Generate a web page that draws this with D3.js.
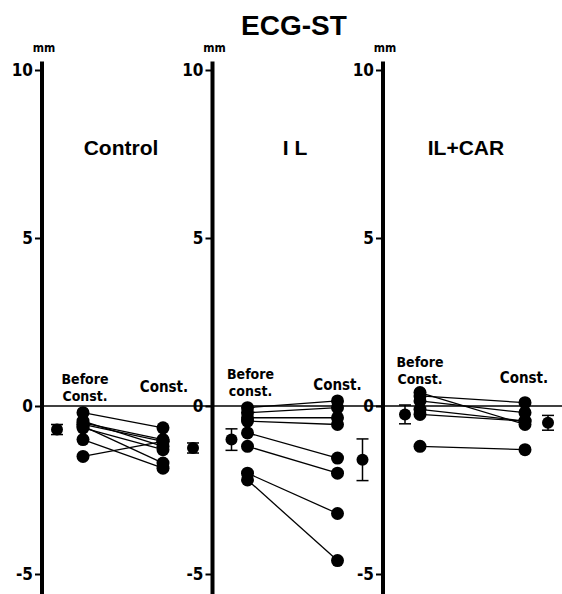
<!DOCTYPE html>
<html>
<head>
<meta charset="utf-8">
<script src="https://cdn.jsdelivr.net/npm/d3@7"></script>
<style>
  body { margin: 0; background: #fff; }
  .narrow { font-family: "DejaVu Sans Condensed", "Liberation Sans Narrow", sans-serif; font-stretch: condensed; font-weight: bold; }
</style>
</head>
<body>
<div id="ecg-st"></div>
<script>
// ST change (mm), one array per group and period
const panels = ["Control", "I L", "IL+CAR"];
const controlBefore = [-0.2, -0.5, -0.55, -0.6, -0.65, -1.0, -1.5, -0.45];
const controlConst = [-0.65, -1.0, -1.05, -1.7, -1.3, -1.85, -1.05, -1.2];
const ilBefore = [-0.05, -0.2, -0.35, -0.45, -0.8, -1.2, -2.0, -2.2];
const ilConst = [0.15, -0.05, -0.35, -0.55, -1.55, -2.0, -3.2, -4.6];
const carBefore = [0.4, 0.3, 0.15, -0.1, -0.25, -1.2];
const carConst = [-0.55, 0.1, -0.2, -0.45, -0.45, -1.3];
const meanBefore = [-0.7, -1.0, -0.25];
const errBefore = [0.15, 0.32, 0.28];
const meanConst = [-1.25, -1.6, -0.5];
const errConst = [0.15, 0.62, 0.22];
const beforeLabels = [["Before", "Const."], ["Before", "const."], ["Before", "Const."]];
const yTicks = [-5, 0, 5, 10];

const befores = [controlBefore, ilBefore, carBefore];
const consts = [controlConst, ilConst, carConst];

const width = 562, height = 594;

// layout of each panel, offsets from its axis
const layout = [
    { meanB: 15, before: 41, cons: 121, meanC: 151, lblB: 43, lblBy: 384, lblC: 122, lblCy: 392 },
    { meanB: 19, before: 35, cons: 125, meanC: 150, lblB: 38, lblBy: 379, lblC: 125, lblCy: 390 },
    { meanB: 22, before: 37, cons: 142, meanC: 165, lblB: 37, lblBy: 367, lblC: 141, lblCy: 383 }
];
const titleX = [121, 295, 466];

const svg = d3.select("#ecg-st")
    .append("svg")
    .attr("width", width)
    .attr("height", height);

const axisX = d3.scalePoint()
    .domain(panels)
    .range([42, 383]);

const y = d3.scaleLinear()
    .domain([-5, 10])
    .range([574, 70]);

svg.append("text")
    .attr("x", 294)
    .attr("y", 35)
    .attr("text-anchor", "middle")
    .style("font-family", "Liberation Sans, Arial, sans-serif")
    .style("font-weight", "bold")
    .style("font-size", "28px")
    .text("ECG-ST");

// zero line runs through all three panels
svg.append("line")
    .attr("x1", axisX(panels[0]))
    .attr("x2", width)
    .attr("y1", y(0))
    .attr("y2", y(0))
    .attr("stroke", "#000")
    .attr("stroke-width", 1.6);

panels.forEach((name, i) => {
    const x0 = axisX(name);
    const L = layout[i];
    const g = svg.append("g").attr("transform", `translate(${x0},0)`);

    const ax = g.append("g")
        .call(d3.axisLeft(y).tickValues(yTicks).tickSize(7).tickPadding(2).tickFormat(d => d));
    ax.select(".domain").remove();
    ax.selectAll(".tick line").attr("stroke-width", 2);
    ax.selectAll(".tick text")
        .attr("class", "narrow")
        .style("font-size", "17px")
        .attr("fill", "#000");

    g.append("line")
        .attr("x1", 0).attr("x2", 0)
        .attr("y1", y(10.25)).attr("y2", y(-5.7))
        .attr("stroke", "#000")
        .attr("stroke-width", 4);

    g.append("text")
        .attr("class", "narrow")
        .attr("x", 2)
        .attr("y", 52)
        .attr("text-anchor", "middle")
        .style("font-size", "12px")
        .text("mm");

    svg.append("text")
        .attr("x", titleX[i])
        .attr("y", 155)
        .attr("text-anchor", "middle")
        .style("font-family", "Liberation Sans, Arial, sans-serif")
        .style("font-weight", "bold")
        .style("font-size", "21px")
        .text(name);

    const bl = g.append("text")
        .attr("class", "narrow")
        .attr("text-anchor", "middle")
        .style("font-size", "14px");
    bl.append("tspan").attr("x", L.lblB).attr("y", L.lblBy).text(beforeLabels[i][0]);
    bl.append("tspan").attr("x", L.lblB).attr("y", L.lblBy + 17).text(beforeLabels[i][1]);

    g.append("text")
        .attr("class", "narrow")
        .attr("x", L.lblC)
        .attr("y", L.lblCy)
        .attr("text-anchor", "middle")
        .style("font-size", "15px")
        .text("Const.");

    const pairs = befores[i].map((b, k) => ({ b: b, c: consts[i][k] }));

    g.selectAll(".pair")
        .data(pairs)
        .join("line")
        .attr("x1", L.before)
        .attr("x2", L.cons)
        .attr("y1", d => y(d.b))
        .attr("y2", d => y(d.c))
        .attr("stroke", "#000")
        .attr("stroke-width", 1.3);

    g.selectAll(".pt-b")
        .data(befores[i])
        .join("circle")
        .attr("cx", L.before)
        .attr("cy", d => y(d))
        .attr("r", 6.5)
        .attr("fill", "#000");

    g.selectAll(".pt-c")
        .data(consts[i])
        .join("circle")
        .attr("cx", L.cons)
        .attr("cy", d => y(d))
        .attr("r", 6.5)
        .attr("fill", "#000");

    const means = [
        { x: L.meanB, m: meanBefore[i], e: errBefore[i] },
        { x: L.meanC, m: meanConst[i], e: errConst[i] }
    ];
    means.forEach(d => {
        g.append("line")
            .attr("x1", d.x).attr("x2", d.x)
            .attr("y1", y(d.m + d.e)).attr("y2", y(d.m - d.e))
            .attr("stroke", "#000").attr("stroke-width", 1.5);
        [d.m + d.e, d.m - d.e].forEach(v => {
            g.append("line")
                .attr("x1", d.x - 6).attr("x2", d.x + 6)
                .attr("y1", y(v)).attr("y2", y(v))
                .attr("stroke", "#000").attr("stroke-width", 1.5);
        });
        g.append("circle")
            .attr("cx", d.x)
            .attr("cy", y(d.m))
            .attr("r", 6)
            .attr("fill", "#000");
    });
});
</script>
</body>
</html>
